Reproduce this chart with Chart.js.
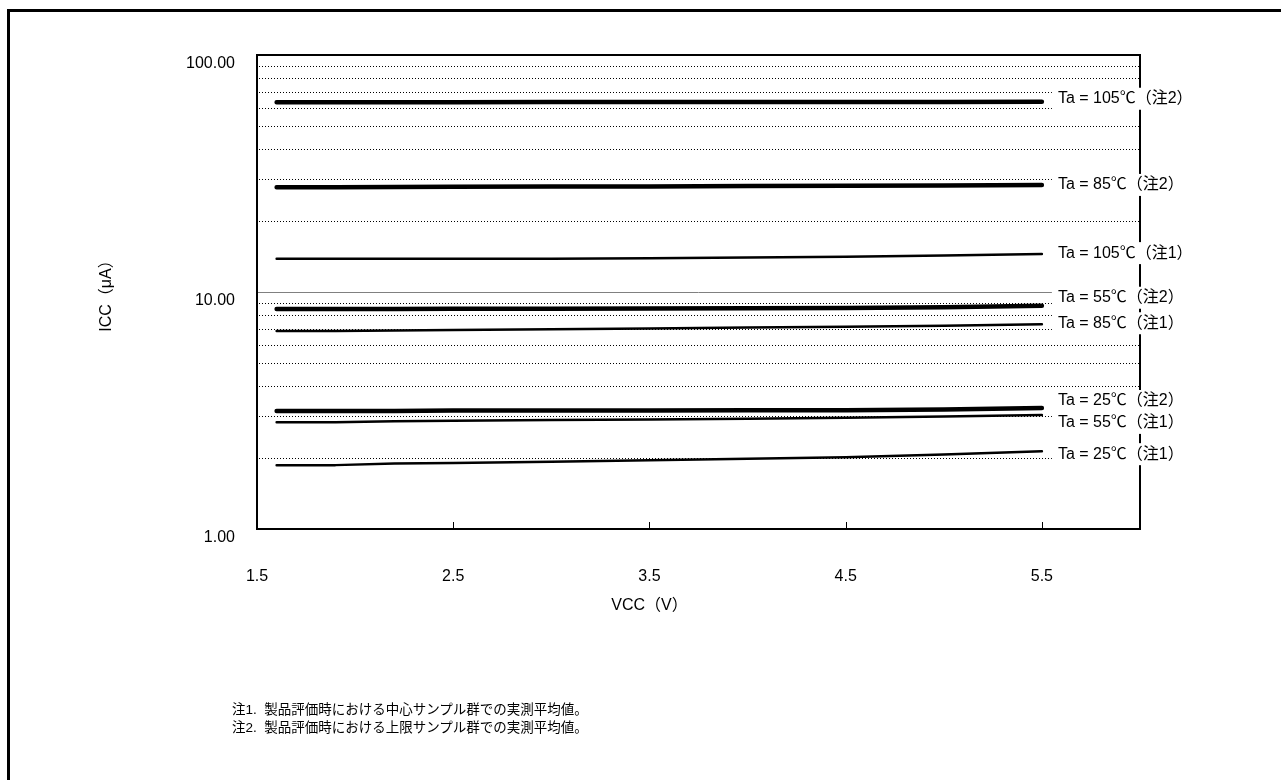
<!DOCTYPE html>
<html>
<head>
<meta charset="utf-8">
<script src="https://cdn.jsdelivr.net/npm/chart.js@4"></script>
<style>
  html, body { margin: 0; padding: 0; background: #fff; }
  #wrap { position: relative; width: 1281px; height: 780px; overflow: hidden; }
  #frame { position: absolute; left: 7px; top: 9px; right: -10px; bottom: -10px;
           border-top: 3px solid #000; border-left: 3px solid #000; }
  .note { position: absolute; left: 232px; font: 13.5px 'Liberation Sans', 'Noto Sans CJK JP', sans-serif;
          color: #000; white-space: pre; }
</style>
</head>
<body>
<div id="wrap">
  <div id="frame"></div>
  <canvas id="iccChart" width="1281" height="780"></canvas>
  <div class="note" style="top:698px">注1.  製品評価時における中心サンプル群での実測平均値。</div>
  <div class="note" style="top:716px">注2.  製品評価時における上限サンプル群での実測平均値。</div>
</div>
<script>
// VCC (V) の測定点
const vcc = [1.6, 1.9, 2.2, 2.5, 3.0, 3.5, 4.0, 4.5, 5.0, 5.5];

// ICC (μA) 各温度条件
const ta105n2 = [63.2, 63.2, 63.2, 63.2, 63.3, 63.3, 63.3, 63.4, 63.4, 63.5];
const ta85n2  = [27.7, 27.7, 27.75, 27.8, 27.85, 27.9, 28.0, 28.05, 28.15, 28.3];
const ta105n1 = [13.8, 13.8, 13.8, 13.8, 13.82, 13.88, 13.98, 14.08, 14.24, 14.45];
const ta55n2  = [8.48, 8.48, 8.48, 8.5, 8.5, 8.52, 8.54, 8.56, 8.62, 8.75];
const ta85n1  = [6.85, 6.85, 6.88, 6.92, 6.97, 7.02, 7.08, 7.14, 7.21, 7.31];
const ta25n2  = [3.15, 3.15, 3.15, 3.16, 3.16, 3.16, 3.17, 3.17, 3.19, 3.24];
const ta55n1  = [2.82, 2.82, 2.85, 2.86, 2.88, 2.9, 2.92, 2.95, 2.98, 3.03];
const ta25n1  = [1.86, 1.86, 1.89, 1.9, 1.92, 1.95, 1.98, 2.01, 2.06, 2.13];

const seriesLabels = [
  'Ta = 105℃（注2）', 'Ta = 85℃（注2）', 'Ta = 105℃（注1）', 'Ta = 55℃（注2）',
  'Ta = 85℃（注1）', 'Ta = 25℃（注2）', 'Ta = 55℃（注1）', 'Ta = 25℃（注1）'
];
const seriesValues = [ta105n2, ta85n2, ta105n1, ta55n2, ta85n1, ta25n2, ta55n1, ta25n1];

// 軸目盛
const xTicks = [1.5, 2.5, 3.5, 4.5, 5.5];
const yTicks = [1, 10, 100];
const yGrid = [2, 3, 4, 5, 6, 7, 8, 9, 20, 30, 40, 50, 60, 70, 80, 90];

const FONT = "'Liberation Sans', 'Noto Sans CJK JP', sans-serif";

// 右側ラベルの上下ずらし (重なり回避, px)
const labelNudge = [-3, 0, -1, -8, -1, -7, 8, 3];

const datasets = seriesValues.map((vals, i) => ({
  label: seriesLabels[i],
  data: vals.map((v, k) => ({ x: vcc[k], y: v })),
  borderColor: '#000',
  borderWidth: seriesLabels[i].includes('注2') ? 4.5 : 2.5,
  borderCapStyle: 'round',
  borderJoinStyle: 'round',
  pointRadius: 0,
  tension: 0,
  fill: false
}));

const framePlugin = {
  id: 'framePlugin',
  beforeDatasetsDraw(chart) {
    const { ctx, chartArea: a, scales: { x, y } } = chart;
    ctx.save();
    // 点線グリッド
    ctx.strokeStyle = '#000';
    ctx.lineWidth = 1;
    ctx.setLineDash([1, 2]);
    yGrid.forEach(v => {
      const py = Math.round(y.getPixelForValue(v)) + 0.5;
      ctx.beginPath();
      ctx.moveTo(a.left + 2, py);
      ctx.lineTo(a.right, py);
      ctx.stroke();
    });
    ctx.setLineDash([]);
    // 10.00 の実線
    const p10 = Math.round(y.getPixelForValue(10)) + 0.5;
    ctx.strokeStyle = '#808080';
    ctx.beginPath();
    ctx.moveTo(a.left, p10);
    ctx.lineTo(a.right, p10);
    ctx.stroke();
    // 枠
    ctx.strokeStyle = '#000';
    ctx.lineWidth = 2;
    ctx.strokeRect(a.left, a.top, a.right - a.left, a.bottom - a.top);
    // X 軸の内向き目盛
    ctx.lineWidth = 1;
    xTicks.slice(1).forEach(v => {
      const px = Math.round(x.getPixelForValue(v)) + 0.5;
      ctx.beginPath();
      ctx.moveTo(px, a.bottom);
      ctx.lineTo(px, a.bottom - 7);
      ctx.stroke();
    });
    ctx.restore();
  },
  afterDatasetsDraw(chart) {
    const { ctx, scales: { x, y } } = chart;
    ctx.save();
    ctx.font = '16px ' + FONT;
    ctx.textBaseline = 'middle';
    chart.data.datasets.forEach((ds, i) => {
      const last = ds.data[ds.data.length - 1];
      const lx = x.getPixelForValue(last.x) + 16;
      const ly = y.getPixelForValue(last.y) + labelNudge[i];
      ctx.fillStyle = '#fff';
      ctx.fillRect(lx - 6, ly - 11, 150, 22);
    });
    ctx.fillStyle = '#000';
    chart.data.datasets.forEach((ds, i) => {
      const last = ds.data[ds.data.length - 1];
      const lx = x.getPixelForValue(last.x) + 16;
      const ly = y.getPixelForValue(last.y) + labelNudge[i];
      ctx.fillText(ds.label, lx, ly);
    });
    // X 軸タイトル
    ctx.font = '16px ' + FONT;
    ctx.textAlign = 'center';
    ctx.fillText('VCC（V）', x.getPixelForValue(3.5), 606);
    ctx.restore();
  }
};

new Chart(document.getElementById('iccChart'), {
  type: 'line',
  data: { datasets },
  options: {
    responsive: false,
    animation: false,
    events: [],
    layout: { padding: { left: 0, top: 55, right: 141, bottom: 0 } },
    plugins: { legend: { display: false }, tooltip: { enabled: false } },
    scales: {
      x: {
        type: 'linear',
        min: 1.5,
        max: 6.0,
        afterBuildTicks: s => { s.ticks = xTicks.map(v => ({ value: v })); },
        afterFit: s => { s.height = 251; },
        grid: { display: false },
        border: { display: false },
        ticks: {
          padding: 30,
          color: '#000',
          font: { family: FONT, size: 16 },
          callback: v => v.toFixed(1)
        }
      },
      y: {
        type: 'logarithmic',
        min: 1,
        max: 100,
        afterBuildTicks: s => { s.ticks = yTicks.map(v => ({ value: v })); },
        afterFit: s => { s.width = 257; },
        grid: { display: false },
        border: { display: false },
        ticks: {
          padding: 14,
          labelOffset: 9,
          color: '#000',
          font: { family: FONT, size: 16 },
          callback: v => Number(v).toFixed(2)
        },
        title: {
          display: true,
          text: 'ICC（μA）',
          color: '#000',
          font: { family: FONT, size: 16 },
          padding: { top: 97 }
        }
      }
    }
  },
  plugins: [framePlugin]
});
</script>
</body>
</html>
